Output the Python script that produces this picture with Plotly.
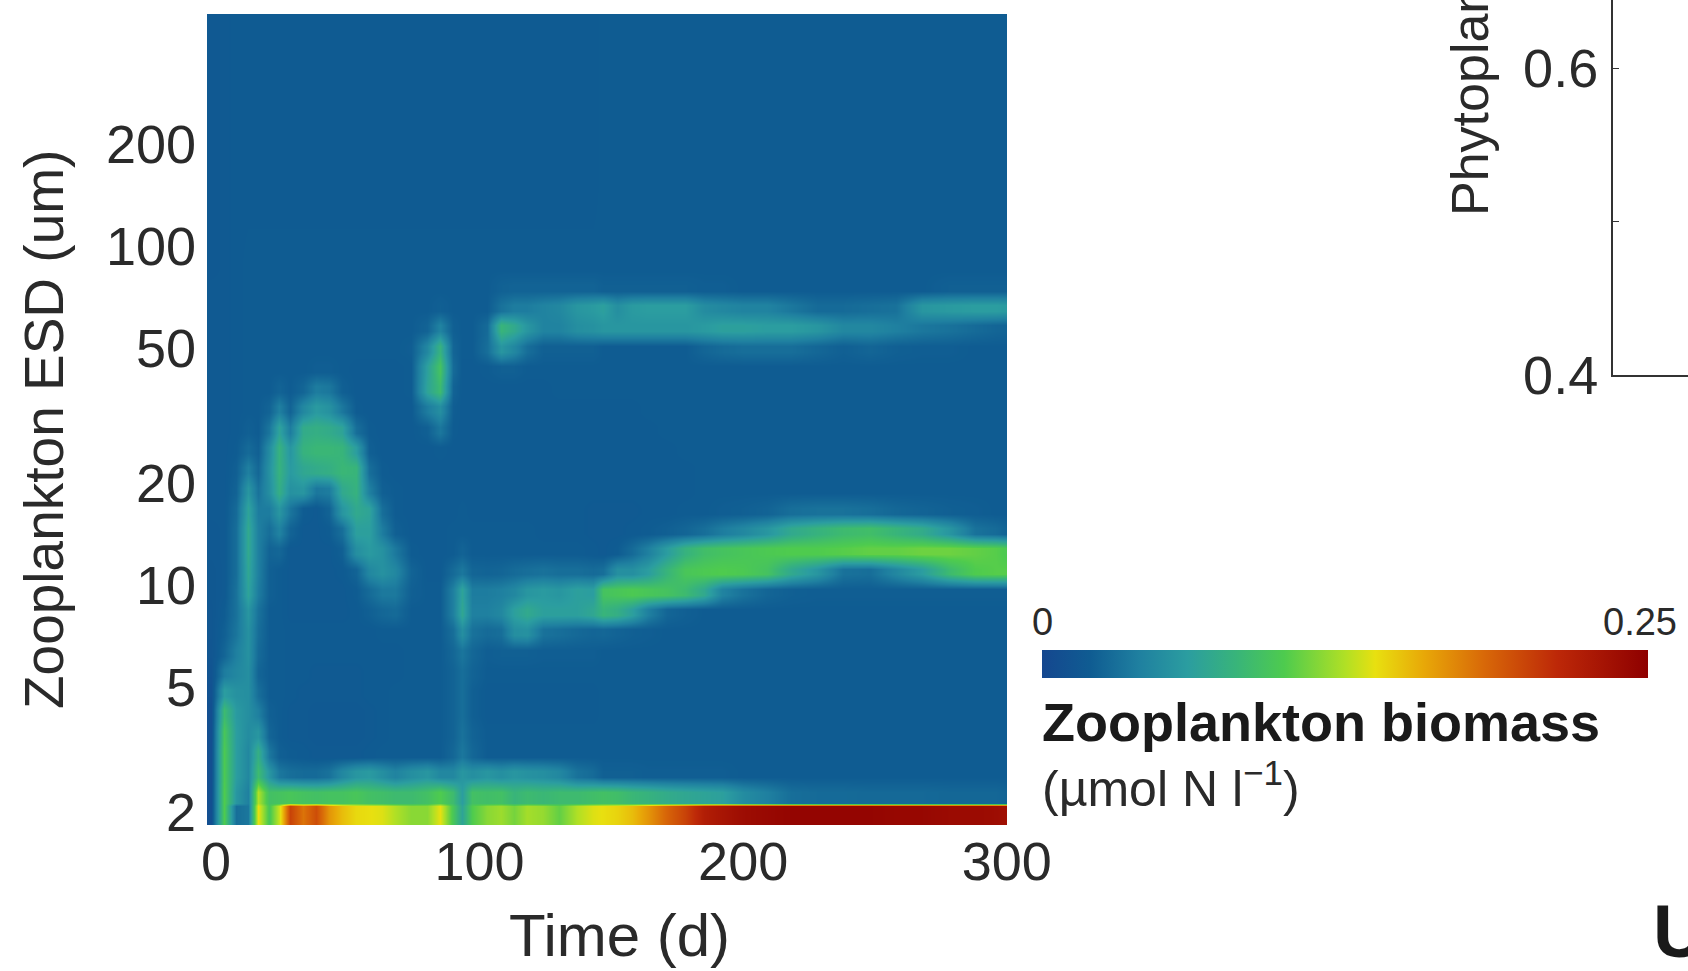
import plotly.graph_objects as go

W, H = 1688, 971
FONT = "Liberation Sans"
INK = "#2a2a2a"

# day of each column
time_d = [-2, 3, 7.5, 12, 16, 20, 24, 28, 33, 38,
          43, 48, 53, 58, 63, 68, 74, 80, 85, 90,
          93.5, 97, 103, 108, 113, 118, 124, 130, 137, 143,
          147, 152, 158, 164, 171, 178, 185, 192, 200, 209,
          218, 228, 238, 248, 258, 268, 278, 288, 296, 300]

# size class centres (um)
esd_um = [2.10, 2.41, 2.77, 3.17, 3.64, 4.18, 4.80, 5.50, 6.32, 7.25,
          8.32, 9.55, 10.96, 12.58, 14.43, 16.57, 19.0, 21.8, 25.0, 28.7,
          33.0, 37.8, 43.4, 49.8, 57.2, 65.6, 75.3, 86.4, 150, 480]

# biomass, in 0.001 umol N/l, bottom size class first
r00 = [8,100,30,35,138,95,130,200,178,195, 165,150,140,138,135,125,115,115,137,95, 65,100,115,120,110,122,118,105,125,135, 138,142,150,165,185,200,222,230,238,242, 245,245,245,245,243,243,240,240,238,235]
r01 = [8,100,55,40,125,90,92,95,92,90, 92,92,95,90,88,85,85,90,100,85, 60,90,88,90,80,85,82,85,85,88, 90,88,82,78,72,68,65,62,48,40, 30,28,28,27,27,27,26,26,26,24]
r02 = [8,98,60,45,85,55,35,30,28,28, 32,45,55,58,50,42,50,55,45,45, 55,50,55,50,55,52,50,45,32,28, 22,22,22,21,21,21,21,21,20,20, 20,20,20,20,20,20,20,20,20,20]
r03 = [8,98,60,45,75,35,22,20,19,18, 18,18,18,19,20,20,20,20,20,26, 35,26,20,20,20,20,20,20,20,20, 20,20,20,20,20,20,20,20,20,20, 20,20,20,20,20,20,20,20,20,20]
r04 = [8,95,60,48,55,25,20,18,18,17, 17,17,17,18,19,20,20,20,20,24, 32,24,20,20,20,20,20,20,20,20, 20,20,20,20,20,20,20,20,20,20, 20,20,20,20,20,20,20,20,20,20]
r05 = [8,85,58,50,40,22,20,18,18,17, 17,17,17,18,19,20,20,20,20,24, 30,22,19,19,19,19,19,19,19,19, 20,20,20,20,20,20,20,20,20,20, 20,20,20,20,20,20,20,20,20,20]
r06 = [10,60,52,50,30,20,20,19,18,18, 18,18,18,19,19,20,20,20,20,24, 30,22,19,19,19,19,19,19,19,19, 20,20,20,20,20,20,20,20,20,20, 20,20,20,20,20,20,20,20,20,20]
r07 = [12,38,45,50,25,20,20,19,19,18, 18,18,18,19,19,19,20,20,20,24, 30,24,20,20,20,20,20,20,20,20, 20,20,20,20,20,20,20,20,20,20, 20,20,20,20,20,20,20,20,20,20]
r08 = [14,25,40,52,28,20,20,19,19,19, 19,19,19,19,19,19,20,20,20,26, 34,26,21,22,22,22,21,21,21,21, 20,20,20,20,20,20,20,20,20,20, 20,20,20,20,20,20,20,20,20,20]
r09 = [15,22,34,52,30,20,20,19,19,19, 19,19,19,19,20,20,20,20,20,30, 50,32,28,30,50,52,32,30,27,25, 26,24,22,21,20,20,20,20,20,20, 20,20,20,20,20,20,20,20,20,20]
r10 = [15,20,32,55,32,20,20,18,18,18, 18,18,19,22,26,28,20,20,20,40, 68,40,40,45,62,70,62,62,62,68, 80,75,62,40,25,22,20,20,20,20, 20,20,20,20,20,20,20,20,20,20]
r11 = [16,18,32,65,38,22,20,18,18,18, 18,18,20,28,36,36,22,20,20,40, 65,38,38,40,45,55,58,55,62,60, 92,95,98,95,92,85,70,42,32,25, 22,21,21,21,21,21,21,21,21,21]
r12 = [16,18,30,68,40,22,20,18,18,18, 18,19,24,45,52,45,24,19,19,28, 35,25,24,25,28,30,32,30,30,28, 30,50,50,60,80,95,98,100,98,92, 70,55,32,30,45,60,85,100,102,102]
r13 = [17,18,30,70,40,24,26,18,18,18, 18,22,50,58,52,36,20,19,19,20, 24,20,20,20,20,20,20,20,20,19, 18,20,28,40,60,78,88,92,95,98, 100,100,102,105,105,108,108,105,102,98]
r14 = [17,18,30,70,40,30,42,24,18,18, 20,30,62,62,38,22,19,19,19,20, 20,20,20,20,20,20,19,19,19,18, 18,18,19,20,22,25,30,38,45,55, 70,78,85,88,80,72,55,32,28,24]
r15 = [18,18,28,65,38,38,55,34,20,18, 24,55,70,65,30,20,19,19,19,19, 20,19,19,19,19,19,19,19,19,18, 18,18,18,19,19,20,20,21,22,24, 30,32,32,30,26,24,22,21,20,20]
r16 = [18,18,24,55,32,50,75,52,55,35, 38,70,78,40,22,20,19,19,19,19, 19,19,19,19,19,19,19,19,19,19, 19,19,19,19,19,19,20,20,20,20, 20,20,20,20,20,20,20,20,20,20]
r17 = [18,18,22,40,26,52,78,58,68,72, 75,82,80,30,20,19,19,19,19,19, 19,19,19,19,19,19,19,19,19,19, 19,19,19,19,19,19,20,20,20,20, 20,20,20,20,20,20,20,20,20,20]
r18 = [18,18,20,28,22,48,78,55,78,82, 82,80,60,22,19,19,19,19,20,19, 19,19,19,19,19,19,19,19,19,19, 19,19,19,19,19,20,20,20,20,20, 20,20,20,20,20,20,20,20,20,20]
r19 = [18,18,19,22,20,34,65,38,72,75, 72,65,30,20,19,19,19,22,35,20, 19,19,19,19,19,19,19,19,19,19, 19,19,19,19,20,20,20,20,20,20, 20,20,20,20,20,20,20,20,20,20]
r20 = [18,18,19,20,20,24,40,24,45,58, 52,35,20,19,19,19,19,38,50,21, 19,19,19,19,19,19,19,19,19,19, 19,19,19,20,20,20,20,20,20,20, 20,20,20,20,20,20,20,20,20,20]
r21 = [18,18,19,20,20,20,24,20,25,38, 35,22,19,19,19,19,20,65,85,24, 19,19,19,19,19,19,19,20,20,20, 20,20,20,20,20,20,20,20,20,20, 20,20,20,20,20,20,20,20,20,20]
r22 = [18,18,19,20,20,20,20,20,20,21, 21,20,19,19,19,19,20,62,92,28, 19,19,20,22,22,20,20,20,20,20, 20,20,20,20,20,20,20,20,20,20, 20,20,20,20,20,20,20,20,20,20]
r23 = [18,18,19,20,20,20,20,20,20,20, 20,20,20,20,20,20,21,45,78,25, 20,20,30,55,45,30,22,22,22,22, 20,20,20,20,20,20,25,28,30,30, 30,26,22,25,22,21,21,20,20,20]
r24 = [18,18,19,20,20,20,20,20,20,20, 20,20,20,20,20,20,20,24,42,22, 20,20,28,80,70,55,42,42,50,52, 55,55,55,55,55,55,58,62,62,60, 60,55,45,45,40,35,32,28,25,24]
r25 = [18,18,19,20,20,20,20,20,20,20, 20,20,20,20,20,20,20,20,22,20, 20,20,20,32,38,38,42,45,55,58, 62,50,58,60,60,60,48,45,42,42, 35,28,28,30,32,55,58,60,60,58]
r26 = [18,18,19,20,20,20,20,20,20,20, 20,20,20,20,20,20,20,20,20,20, 20,20,20,23,24,24,24,24,24,24, 22,22,22,22,22,22,21,21,20,20, 20,20,20,20,20,20,22,22,22,22]
r27 = [17,18,19,20,20,20,20,20,20,20, 20,20,20,20,20,20,20,20,20,20, 20,20,20,20,20,20,20,20,20,20, 20,20,20,20,20,20,20,20,20,20, 20,20,20,20,20,20,20,20,20,20]
r28 = [17,18,19,19,19,19,19,19,19,19, 19,19,19,19,19,19,19,19,19,19, 19,19,19,19,19,19,19,19,19,19, 20,20,20,20,20,20,20,20,20,20, 20,20,20,20,20,20,20,20,20,20]
r29 = [17,18,19,19,19,19,19,19,19,19, 19,19,19,19,19,19,19,19,19,19, 19,19,19,19,19,19,19,19,19,19, 20,20,20,20,20,20,20,20,20,20, 20,20,20,20,20,20,20,20,20,20]

rows = [r00, r01, r02, r03, r04, r05, r06, r07, r08, r09,
        r10, r11, r12, r13, r14, r15, r16, r17, r18, r19,
        r20, r21, r22, r23, r24, r25, r26, r27, r28, r29]
assert len(rows) == len(esd_um) and all(len(r) == len(time_d) for r in rows)

# the lowest class reaches the axis floor and ends sharply against the next one;
# each other class is held over part of its band, as in the stepped reference image
y_cells, z_cells = [1.88], [[v / 1000 for v in r00]]
for i, (size, row) in enumerate(zip(esd_um, rows)):
    low = 0.945 if i == 1 else 0.98
    high = 1.06 if i == 0 else 1.02
    for factor in (low, high):
        y_cells.append(size * factor)
        z_cells.append([v / 1000 for v in row])

x_ticks = [0, 100, 200, 300]
y_tick_vals = [2.14, 5, 10, 20, 50, 100, 200]
y_tick_text = ["2", "5", "10", "20", "50", "100", "200"]
right_ticks = [0.4, 0.6]
right_minor = [0.5]

colorscale = [
    [0.00, "#15478f"], [0.08, "#0f5c92"], [0.16, "#1f80a0"], [0.24, "#2b9da0"],
    [0.32, "#38b47a"], [0.40, "#4ecb4e"], [0.50, "#b0e025"], [0.55, "#e8e010"],
    [0.63, "#e8a808"], [0.73, "#d86808"], [0.85, "#bd2808"], [1.00, "#8e0000"],
]

def px(x): return x / W
def py(y): return 1 - y / H

fig = go.Figure()
fig.add_trace(go.Heatmap(
    x=time_d, y=y_cells, z=z_cells, zmin=0, zmax=0.25, zsmooth="best",
    colorscale=colorscale, hoverinfo="skip",
    colorbar=dict(
        orientation="h", x=px(1042), xanchor="left", y=py(678), yanchor="bottom",
        len=606, lenmode="pixels", thickness=28, thicknessmode="pixels",
        xpad=0, ypad=0, outlinewidth=0, ticks="", showticklabels=False,
    ),
))
fig.add_trace(go.Scatter(x=[], y=[], xaxis="x2", yaxis="y2", showlegend=False))

def note(text, x, y, size, xanchor="center", yanchor="middle", angle=0, bold=False):
    fig.add_annotation(
        text=f"<b>{text}</b>" if bold else text, xref="paper", yref="paper",
        x=px(x), y=py(y), xanchor=xanchor, yanchor=yanchor, textangle=angle,
        showarrow=False, font=dict(family=FONT, size=size, color="#1a1a1a" if bold else INK),
    )

note("Time (d)", 619, 935, 60)
note("Zooplankton ESD (um)", 44, 430, 55, angle=-90)
note("0", 1042, 622, 38)
note("0.25", 1640, 622, 38)
note("Zooplankton biomass", 1040, 722, 54, xanchor="left", bold=True)
note("(µmol N l<sup>−1</sup>)", 1040, 785, 50, xanchor="left")
note("Phytoplankton biomass (µmol N l<sup>−1</sup>)", 1466, 218, 52, angle=-90, yanchor="bottom")
note("U", 1651, 931, 74, xanchor="left", bold=True)

fig.update_layout(
    width=W, height=H, margin=dict(l=0, r=0, t=0, b=0, autoexpand=False),
    paper_bgcolor="white", plot_bgcolor="white", showlegend=False,
    xaxis=dict(domain=[px(207), px(1007)], range=[-3.4, 300.1],
               tickmode="array", tickvals=x_ticks, ticks="", showgrid=False, zeroline=False,
               ticklabelstandoff=0, tickfont=dict(family=FONT, size=54, color=INK)),
    yaxis=dict(domain=[py(825), py(14)], type="log", range=[0.292, 2.684],
               tickmode="array", tickvals=y_tick_vals, ticktext=y_tick_text, ticks="",
               showgrid=False, zeroline=False, ticklabelstandoff=10,
               tickfont=dict(family=FONT, size=54, color=INK)),
    xaxis2=dict(domain=[px(1613), 1], range=[0, 1], anchor="y2", showticklabels=False,
                ticks="", showgrid=False, zeroline=False, showline=True,
                linecolor="#333333", linewidth=2),
    yaxis2=dict(domain=[py(375), 1], range=[0.4, 0.6 + 68 / 307 * 0.2], anchor="x2",
                tickmode="array", tickvals=right_ticks,
                ticks="inside", ticklen=6, tickwidth=1, tickcolor="#333333",
                minor=dict(tickmode="array", tickvals=right_minor, ticks="inside", ticklen=6,
                           tickwidth=1, tickcolor="#333333", showgrid=False),
                showgrid=False, zeroline=False, showline=True,
                linecolor="#333333", linewidth=2, ticklabelstandoff=2,
                tickfont=dict(family=FONT, size=54, color=INK)),
)

fig.write_html("out.html", config={"displayModeBar": False},
               post_script="document.body.style.margin='0';")
